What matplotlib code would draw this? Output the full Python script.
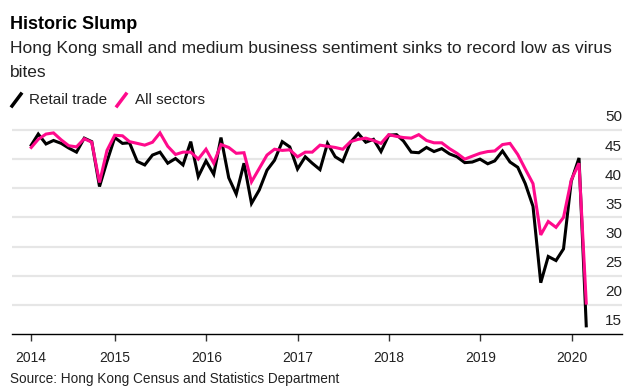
import numpy as np
import pandas as pd
import matplotlib
matplotlib.use("Agg")
import matplotlib.pyplot as plt
import matplotlib.dates as mdates
from matplotlib.lines import Line2D

plt.rcParams['font.family'] = ['Liberation Sans', 'DejaVu Sans']

# monthly readings, Jan 2014 .. Feb 2020
months = pd.date_range("2014-01-31", "2020-02-29", freq="ME")

retail_trade = [
    47.4, 49.3, 47.6, 48.2, 47.7, 46.9, 46.2, 48.6, 48.0, 40.3, 44.6, 48.7,
    47.7, 47.8, 44.6, 44.0, 45.7, 46.2, 44.3, 45.1, 44.0, 48.0, 42.0, 44.7,
    42.4, 48.7, 41.8, 39.0, 44.3, 37.4, 39.7, 43.1, 44.8, 48.0, 47.1, 43.3,
    45.4, 44.3, 43.2, 47.7, 45.4, 44.6, 47.9, 49.4, 47.9, 48.4, 46.3, 49.1,
    49.2, 48.1, 46.2, 46.1, 47.0, 46.3, 46.8, 45.9, 45.4, 44.4, 44.5, 45.0,
    44.2, 44.7, 46.4, 44.5, 43.6, 40.8, 36.9, 23.8, 28.3, 27.6, 29.6, 41.2,
    45.2, 16.4,
]
all_sectors = [
    47.0, 48.4, 49.3, 49.5, 48.3, 47.3, 47.1, 48.5, 47.9, 41.0, 46.5, 49.1,
    49.0, 48.0, 47.7, 47.4, 47.9, 49.5, 47.2, 45.8, 46.2, 46.2, 45.0, 46.7,
    44.3, 47.5, 47.0, 46.0, 46.1, 41.1, 43.4, 45.7, 46.7, 46.5, 46.6, 45.4,
    46.2, 46.2, 47.4, 47.2, 47.0, 46.7, 48.0, 48.4, 48.6, 48.2, 47.7, 49.2,
    48.9, 48.7, 48.6, 49.2, 48.2, 47.8, 47.8, 46.8, 46.0, 45.0, 45.5, 46.0,
    46.3, 46.4, 47.5, 47.7, 45.8, 43.3, 40.8, 32.0, 34.3, 33.3, 35.0, 41.4,
    44.3, 20.3,
]
y_ticks = [15, 20, 25, 30, 35, 40, 45, 50]
year_labels = ["2014", "2015", "2016", "2017", "2018", "2019", "2020"]

BLACK = "#000000"
PINK = "#ff0a8c"
GRID = "#e6e6e6"

W, H = 644, 387
fig = plt.figure(figsize=(W / 100, H / 100), dpi=100)

def fx(px):
    return px / W

def fy(py):
    return 1 - py / H

# plot area: x 12..622 px, y 125..334 px
ax = fig.add_axes([fx(12), fy(334), fx(622) - fx(12), (334 - 125) / H])
ax.set_ylim(15, 15 + 209 / 5.829)
ax.set_xlim(pd.Timestamp("2013-11-15"), pd.Timestamp("2020-07-21"))

for v in y_ticks[1:]:
    ax.axhline(v, color=GRID, lw=1.6, zorder=0)
for v in y_ticks:
    ax.annotate(str(v), (1.0, v), xycoords=ax.get_yaxis_transform(),
                xytext=(0, 4), textcoords="offset points",
                ha="right", va="bottom", fontsize=11, color="#222222")

ax.plot(months, retail_trade, color=BLACK, lw=2.2, solid_joinstyle="miter", zorder=3)
ax.plot(months, all_sectors, color=PINK, lw=2.2, solid_joinstyle="miter", zorder=4)

for s in ["top", "right", "left"]:
    ax.spines[s].set_visible(False)
ax.spines["bottom"].set_linewidth(1.0)
ax.set_yticks([])

tick_pos = [months[0]] + [pd.Timestamp(f"{y}-01-01") for y in range(2015, 2021)]
ax.set_xticks(tick_pos)
ax.set_xticklabels(year_labels, fontsize=10, color="#222222")
ax.tick_params(axis="x", length=5, width=1, pad=7, color="#333333")

# header
fig.text(fx(10), fy(29), "Historic Slump", fontsize=13, fontweight="bold",
         va="baseline", ha="left")
fig.text(fx(10), fy(53), "Hong Kong small and medium business sentiment sinks to record low as virus",
         fontsize=12.5, va="baseline", ha="left", color="#222222")
fig.text(fx(10), fy(77), "bites", fontsize=12.5, va="baseline", ha="left", color="#222222")

# legend
fig.add_artist(Line2D([fx(12), fx(21)], [fy(106), fy(94)], color=BLACK, lw=2.5))
fig.text(fx(29), fy(104), "Retail trade", fontsize=11, va="baseline", color="#222222")
fig.add_artist(Line2D([fx(117), fx(126)], [fy(106), fy(94)], color=PINK, lw=2.5))
fig.text(fx(135), fy(104), "All sectors", fontsize=11, va="baseline", color="#222222")

fig.text(fx(10), fy(383), "Source: Hong Kong Census and Statistics Department",
         fontsize=9.8, va="baseline", color="#222222")

fig.savefig("out.png", dpi=100)
